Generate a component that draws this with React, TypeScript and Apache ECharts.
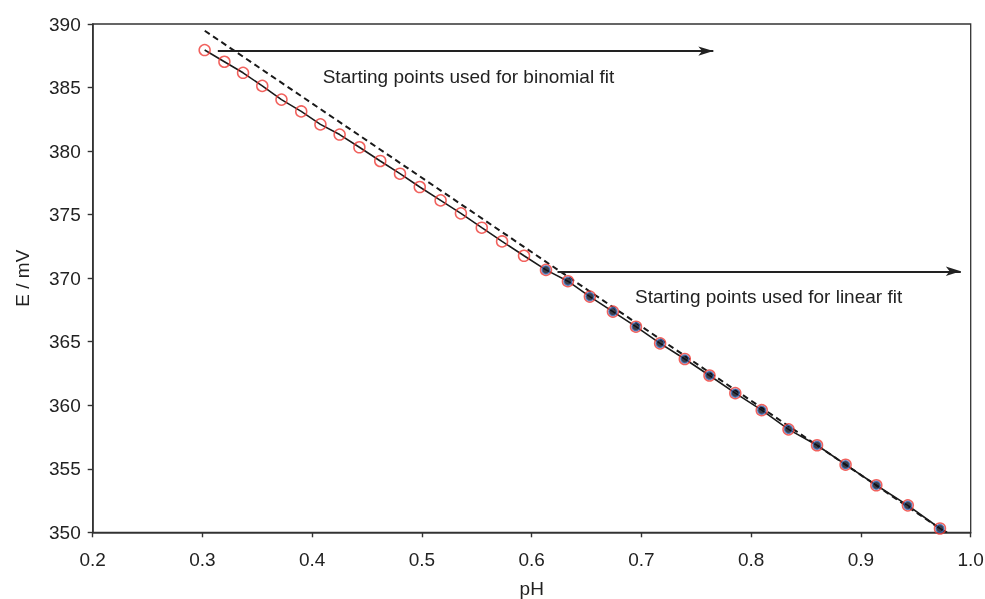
import React, { useEffect, useRef } from "react";
import * as echarts from "echarts";

// Binomial-fit starting points (open red circles)
const binomialPH = [0.302, 0.320, 0.337, 0.3545, 0.372, 0.390, 0.4075, 0.425, 0.443, 0.462, 0.480, 0.498, 0.517, 0.5355, 0.5545, 0.573, 0.593];
const binomialE = [387.95, 387.03, 386.16, 385.13, 384.05, 383.12, 382.1, 381.3, 380.3, 379.22, 378.22, 377.17, 376.12, 375.1, 373.97, 372.89, 371.76];

// Linear-fit starting points (filled dark points)
const linearPH = [0.613, 0.633, 0.653, 0.674, 0.695, 0.717, 0.7395, 0.762, 0.7855, 0.8096, 0.834, 0.860, 0.886, 0.914, 0.9427, 0.972];
const linearE = [370.65, 369.76, 368.55, 367.37, 366.18, 364.87, 363.64, 362.34, 360.95, 359.61, 358.1, 356.85, 355.32, 353.7, 352.12, 350.3];

// Solid fit curve end (extends past last point to axis)
const solidEndPH = 0.9785;
const solidEndE = 350;

// Dashed straight line endpoints
const dashedPH = [0.3021, 0.977];
const dashedE = [389.47, 350];

// Arrows: [startPH, endPH, E]
const arrowBinomial = [0.314, 0.7655, 387.87];
const arrowLinear = [0.6235, 0.991, 370.54];

const xTicks = { min: 0.2, max: 1.0, interval: 0.1 };
const yTicks = { min: 350, max: 390, interval: 5 };

const FONT = "'Liberation Sans', Arial, Helvetica, sans-serif";
const TXT = "#222";

export default function App() {
  const ref = useRef<HTMLDivElement>(null);
  useEffect(() => {
    document.body.style.margin = "0";
    const chart = echarts.init(ref.current!, null, { renderer: "svg" });
    const openData = binomialPH.map((x, i) => [x, binomialE[i]]);
    const filledData = linearPH.map((x, i) => [x, linearE[i]]);
    const allData = [...openData, ...filledData];
    const solidData = [...allData, [solidEndPH, solidEndE]];
    const dashedData = dashedPH.map((x, i) => [x, dashedE[i]]);

    chart.setOption({
      animation: false,
      textStyle: { fontFamily: FONT },
      grid: {
        left: 92.7,
        right: 14.3,
        top: 24,
        bottom: 66.7,
        containLabel: false,
        outerBoundsMode: "none",
        show: true,
        borderColor: "#333",
        borderWidth: 1.3,
        backgroundColor: "transparent",
      },
      xAxis: {
        type: "value",
        min: xTicks.min,
        max: xTicks.max,
        interval: xTicks.interval,
        name: "pH",
        nameLocation: "middle",
        nameGap: 47,
        nameTextStyle: { fontSize: 19, color: TXT, fontFamily: FONT },
        axisLine: { show: true, lineStyle: { color: "#333", width: 1.6 } },
        axisTick: { show: true, inside: false, length: 5, lineStyle: { color: "#333", width: 1.4 } },
        axisLabel: {
          fontSize: 19,
          color: TXT,
          fontFamily: FONT,
          margin: 18,
          formatter: (v: number) => v.toFixed(1),
        },
        splitLine: { show: false },
      },
      yAxis: {
        type: "value",
        min: yTicks.min,
        max: yTicks.max,
        interval: yTicks.interval,
        name: "E / mV",
        nameLocation: "middle",
        nameGap: 61,
        nameTextStyle: { fontSize: 19, color: TXT, fontFamily: FONT },
        axisLine: { show: true, lineStyle: { color: "#333", width: 1.6 } },
        axisTick: { show: true, inside: false, length: 5, lineStyle: { color: "#333", width: 1.4 } },
        axisLabel: { fontSize: 19, color: TXT, fontFamily: FONT, margin: 12 },
        splitLine: { show: false },
      },
      series: [
        {
          type: "line",
          data: dashedData,
          showSymbol: false,
          symbol: "none",
          lineStyle: { color: "#1a1a1a", width: 2, type: [6, 4] },
          z: 2,
          silent: true,
        },
        {
          type: "line",
          data: solidData,
          showSymbol: false,
          symbol: "none",
          smooth: false,
          lineStyle: { color: "#1a1a1a", width: 1.6 },
          z: 2,
          silent: true,
          markLine: {
            silent: true,
            symbol: ["none", "arrow"],
            symbolSize: [7, 15],
            label: { show: false },
            lineStyle: { color: "#222", width: 2, type: "solid" },
            data: [
              [
                { coord: [arrowBinomial[0], arrowBinomial[2]] },
                { coord: [arrowBinomial[1], arrowBinomial[2]] },
              ],
              [
                { coord: [arrowLinear[0], arrowLinear[2]] },
                { coord: [arrowLinear[1], arrowLinear[2]] },
              ],
            ],
          },
        },
        {
          type: "scatter",
          data: allData,
          symbol: "circle",
          symbolSize: 11,
          itemStyle: { color: "rgba(255,255,255,0)", borderColor: "#ee3b36", borderWidth: 1.5 },
          z: 3,
          silent: true,
        },
        {
          type: "scatter",
          data: filledData,
          symbol: "circle",
          symbolSize: 8,
          itemStyle: { color: "#0d0f1a", borderColor: "#3d6bb5", borderWidth: 1.4 },
          z: 4,
          silent: true,
        },
      ],
      graphic: [
        {
          type: "text",
          left: 322.7,
          top: 67,
          style: { text: "Starting points used for binomial fit", fontSize: 19, fill: TXT, fontFamily: FONT },
        },
        {
          type: "text",
          left: 635,
          top: 286.5,
          style: { text: "Starting points used for linear fit", fontSize: 19, fill: TXT, fontFamily: FONT },
        },
      ],
    });
    return () => chart.dispose();
  }, []);
  return <div ref={ref} style={{ position: "fixed", left: 0, top: 0, width: 985, height: 599 }} />;
}
